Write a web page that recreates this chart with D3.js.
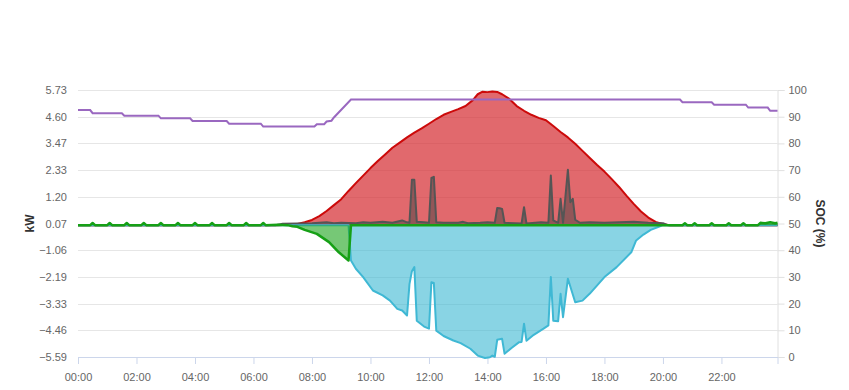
<!DOCTYPE html>
<html lang="en">
<head>
    <meta charset="UTF-8">
    <script src="https://d3js.org/d3.v7.min.js"></script>
    <style>
        body { margin: 0; background: #fff; }
        text { font-family: "Liberation Sans", Arial, sans-serif; }
    </style>
</head>
<body>
<div id="chart"></div>
<script>
    // tick labels
    var kwTicks = [5.73, 4.60, 3.47, 2.33, 1.20, 0.07, -1.06, -2.19, -3.33, -4.46, -5.59];
    var socTicks = [0, 10, 20, 30, 40, 50, 60, 70, 80, 90, 100];
    var timeTicks = ["00:00", "02:00", "04:00", "06:00", "08:00", "10:00", "12:00", "14:00", "16:00", "18:00", "20:00", "22:00"];

    // PV production (kW)
    var pv = [["00:00",0],["06:50",0],["07:10",0.02],["07:30",0.05],["07:45",0.12],["08:00",0.22],["08:15",0.38],
        ["08:30",0.6],["08:45",0.85],["09:00",1.1],["09:15",1.45],["09:30",1.78],["09:45",2.1],["10:00",2.42],
        ["10:15",2.72],["10:30",3.0],["10:45",3.28],["11:00",3.5],["11:15",3.72],["11:30",3.92],["11:45",4.1],
        ["12:00",4.3],["12:15",4.5],["12:30",4.68],["12:45",4.8],["13:00",4.92],["13:15",5.05],["13:30",5.3],
        ["13:40",5.55],["13:50",5.66],["14:00",5.64],["14:10",5.67],["14:20",5.65],["14:30",5.55],["14:45",5.35],
        ["15:00",5.05],["15:15",4.85],["15:30",4.68],["15:45",4.55],["16:00",4.45],["16:15",4.2],["16:30",3.95],
        ["16:45",3.72],["17:00",3.45],["17:15",3.15],["17:30",2.85],["17:45",2.55],["18:00",2.27],["18:15",1.95],
        ["18:30",1.62],["18:45",1.25],["19:00",0.9],["19:15",0.58],["19:30",0.32],["19:45",0.14],["20:00",0.04],
        ["20:15",0],["23:55",0]];

    // house consumption (kW)
    var load = [["00:00",0],["06:45",0],["07:00",0.06],["08:00",0.08],["08:30",0.12],["08:45",0.08],["09:00",0.1],
        ["09:30",0.08],["09:45",0.12],["10:00",0.1],["10:25",0.14],["10:45",0.1],["11:05",0.2],["11:15",0.12],
        ["11:20",0.1],["11:25",1.92],["11:30",1.92],["11:35",0.14],["11:50",0.12],["12:00",0.1],["12:05",2.0],
        ["12:10",2.05],["12:15",0.12],["12:30",0.1],["13:00",0.1],["13:10",0.14],["13:20",0.08],["13:45",0.1],
        ["14:00",0.12],["14:15",0.1],["14:20",0.73],["14:25",0.72],["14:30",0.69],["14:35",0.1],["15:10",0.07],
        ["15:15",0.76],["15:20",0.07],["15:50",0.12],["16:05",0.1],["16:10",2.1],["16:15",0.2],["16:25",0.1],
        ["16:30",1.12],["16:35",0.1],["16:45",2.35],["16:50",0.97],["16:55",1.12],["17:00",0.23],["17:10",0.1],
        ["17:30",0.12],["18:00",0.1],["18:30",0.12],["19:00",0.14],["19:30",0.1],["20:00",0.08],["20:10",0],
        ["23:55",0]];

    // battery power (kW)
    var battery = [["00:00",0],["09:15",0],["09:20",-1.5],["09:30",-1.85],["09:45",-2.2],["10:05",-2.77],
        ["10:25",-2.98],["10:40",-3.2],["10:55",-3.55],["11:05",-3.62],["11:15",-3.83],["11:20",-2.5],
        ["11:25",-1.95],["11:30",-1.78],["11:35",-4.05],["11:50",-4.3],["12:00",-4.39],["12:05",-2.42],
        ["12:10",-2.45],["12:15",-4.47],["12:30",-4.7],["12:50",-4.89],["13:05",-5.0],["13:25",-5.24],
        ["13:40",-5.53],["13:50",-5.6],["13:55",-5.63],["14:05",-5.6],["14:10",-5.53],["14:15",-5.58],
        ["14:20",-4.86],["14:30",-4.82],["14:35",-5.45],["14:50",-5.2],["15:05",-4.96],["15:10",-4.95],
        ["15:15",-4.18],["15:20",-4.9],["15:35",-4.65],["15:55",-4.39],["16:05",-4.25],["16:10",-2.2],
        ["16:15",-4.05],["16:25",-4.07],["16:30",-2.91],["16:35",-3.9],["16:45",-2.27],["17:00",-3.27],
        ["17:15",-3.2],["17:30",-2.9],["18:00",-2.2],["18:25",-1.78],["18:55",-1.15],["19:05",-0.65],
        ["19:20",-0.4],["19:35",-0.2],["19:50",-0.08],["20:00",0],["23:55",0]];

    // grid power (kW)
    var grid = [["00:00",0],["00:25",0],["00:30",0.09],["00:35",0],["01:00",0],["01:05",0.09],["01:10",0],
        ["01:35",0],["01:40",0.09],["01:45",0],["02:10",0],["02:15",0.09],["02:20",0],["02:45",0],["02:50",0.09],
        ["02:55",0],["03:20",0],["03:25",0.09],["03:30",0],["03:55",0],["04:00",0.09],["04:05",0],["04:30",0],
        ["04:35",0.09],["04:40",0],["05:05",0],["05:10",0.09],["05:15",0],["05:40",0],["05:45",0.09],["05:50",0],
        ["06:15",0],["06:20",0.09],["06:25",0],["06:50",0.02],["07:10",0],["07:20",-0.05],["07:30",-0.07],
        ["07:45",-0.2],["08:10",-0.37],["08:35",-0.72],["08:55",-1.15],["09:15",-1.5],["09:20",0],["20:40",0],
        ["20:45",0.08],["20:50",0],["21:00",0],["21:05",0.08],["21:10",0],["21:35",0],["21:40",0.08],["21:45",0],
        ["22:10",0],["22:15",0.08],["22:20",0],["22:40",0],["22:45",0.08],["22:50",0],["23:15",0],["23:20",0.1],
        ["23:30",0.08],["23:40",0.12],["23:50",0.08],["23:55",0.1]];

    // battery state of charge (%)
    var soc = [["00:00",92.5],["00:25",92.5],["00:30",91.3],["01:30",91.3],["01:35",90.4],["02:45",90.4],
        ["02:50",89.4],["03:50",89.4],["03:55",88.4],["05:05",88.4],["05:10",87.4],["06:15",87.4],["06:20",86.3],
        ["08:05",86.3],["08:10",87.2],["08:25",87.2],["08:30",88.2],["08:40",88.5],["08:45",89.7],["09:20",96.4],
        ["20:35",96.4],["20:40",95.4],["21:40",95.4],["21:45",94.5],["22:50",94.5],["22:55",93.4],["23:35",93.4],
        ["23:40",92.2],["23:55",92.2]];

    var W = 849, H = 390;
    var mLeft = 78, mRight = 777.5, mTop = 90, mBottom = 357;

    function hours(s) {
        var p = s.split(":");
        return +p[0] + (+p[1]) / 60;
    }

    var x = d3.scaleLinear().domain([0, hours("23:55")]).range([mLeft, mRight]);
    var y = d3.scaleLinear().domain([-5.59, 5.73]).range([mBottom, mTop]);
    var ySoc = d3.scaleLinear().domain([0, 100]).range([mBottom, mTop]);

    var svg = d3.select("#chart").append("svg")
        .attr("width", W)
        .attr("height", H);

    // grid lines
    svg.append("g").selectAll("line")
        .data(kwTicks)
        .enter().append("line")
        .attr("x1", mLeft).attr("x2", mRight)
        .attr("y1", function(d) { return Math.round(y(d)) + 0.5; })
        .attr("y2", function(d) { return Math.round(y(d)) + 0.5; })
        .attr("stroke", "#e6e6e6");

    // left axis
    var gLeft = svg.append("g")
        .attr("transform", "translate(" + mLeft + ",0)")
        .call(d3.axisLeft(y).tickValues(kwTicks).tickFormat(d3.format(".2f")).tickSize(0).tickPadding(11));
    gLeft.select(".domain").remove();

    // right axis
    var gRight = svg.append("g")
        .attr("transform", "translate(" + mRight + ",0)")
        .call(d3.axisRight(ySoc).tickValues(socTicks).tickSize(7).tickPadding(4));
    gRight.select(".domain").attr("stroke", "#e0e0e0");
    gRight.selectAll(".tick line").attr("stroke", "#e0e0e0");

    // bottom axis
    var gBottom = svg.append("g")
        .attr("transform", "translate(0," + mBottom + ")")
        .call(d3.axisBottom(x).tickValues(timeTicks.map(hours)).tickFormat(function(d, i) { return timeTicks[i]; })
            .tickSizeOuter(0).tickSize(7).tickPadding(9));
    gBottom.select(".domain").attr("stroke", "#ccd6eb");
    gBottom.selectAll(".tick line").attr("stroke", "#ccd6eb");

    svg.selectAll(".tick text")
        .attr("fill", "#666")
        .style("font-size", "11px");

    // axis titles
    svg.append("text")
        .attr("transform", "translate(34," + y(0.07) + ") rotate(-90)")
        .attr("text-anchor", "middle")
        .style("font-size", "12px")
        .style("font-weight", "bold")
        .attr("fill", "#333")
        .text("kW");

    svg.append("text")
        .attr("transform", "translate(816," + y(0.07) + ") rotate(90)")
        .attr("text-anchor", "middle")
        .style("font-size", "12px")
        .style("font-weight", "bold")
        .attr("fill", "#333")
        .text("SOC (%)");

    function drawSeries(data, stroke, fill, opacity, width) {
        var area = d3.area()
            .x(function(d) { return x(hours(d[0])); })
            .y0(y(0))
            .y1(function(d) { return y(d[1]); });
        var line = d3.line()
            .x(function(d) { return x(hours(d[0])); })
            .y(function(d) { return y(d[1]); });
        svg.append("path")
            .datum(data)
            .attr("d", area)
            .attr("fill", fill)
            .attr("fill-opacity", opacity);
        svg.append("path")
            .datum(data)
            .attr("d", line)
            .attr("fill", "none")
            .attr("stroke", stroke)
            .attr("stroke-width", width)
            .attr("stroke-linejoin", "round");
    }

    drawSeries(pv, "#cc0a0a", "#d42a2f", 0.7, 2);
    drawSeries(load, "#555", "#444", 0.5, 2);
    drawSeries(battery, "#3fb8d4", "#3ab7d2", 0.6, 2);
    drawSeries(grid, "#16a016", "#1aa31a", 0.6, 2.5);

    var socLine = d3.line()
        .x(function(d) { return x(hours(d[0])); })
        .y(function(d) { return ySoc(d[1]); });

    svg.append("path")
        .datum(soc)
        .attr("d", socLine)
        .attr("fill", "none")
        .attr("stroke", "#9a68c0")
        .attr("stroke-width", 2);
</script>
</body>
</html>
